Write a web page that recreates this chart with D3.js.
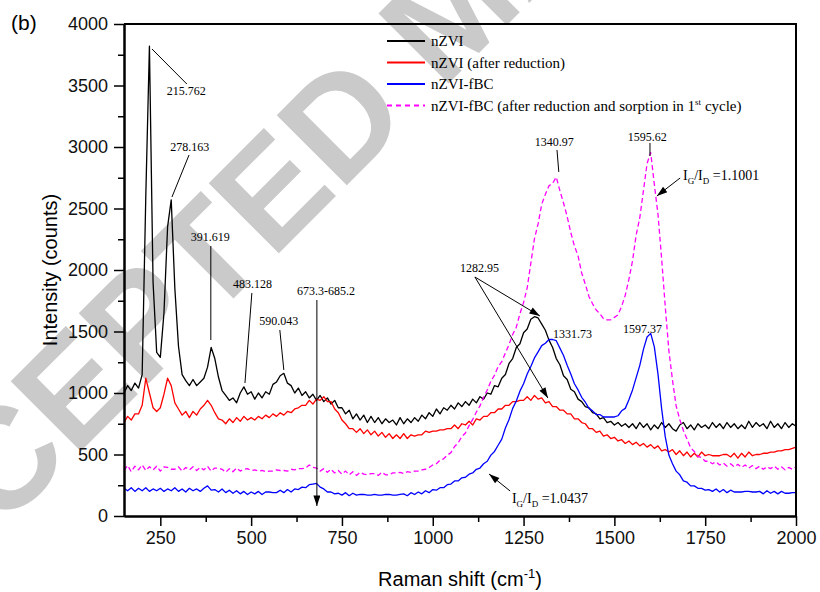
<!DOCTYPE html>
<html>
<head>
<meta charset="utf-8">
<script src="https://cdn.jsdelivr.net/npm/d3@7"></script>
<style>
body { margin: 0; background: #fff; }
</style>
</head>
<body>
<div id="chart"></div>
<script>
const width = 820;
const height = 592;
const marginTop = 24;
const marginBottom = 76;
const marginLeft = 124;
const marginRight = 24;

// Raman shift (cm-1), readings every 10 cm-1 from 150 to 2000
const shiftStep = 10;
const shift = d3.range(150, 2000 + 1, shiftStep);

// intensity (counts), one row = 100 cm-1
const nzvi = [
    1000, 1060, 1020, 1080, 1040, 1150, 2600, 3820, 1900, 1330,
    1290, 1650, 2350, 2570, 1850, 1380, 1150, 1100, 1060, 1110,
    1060, 1090, 1120, 1210, 1370, 1280, 1130, 1020, 980, 940,
    960, 920, 1000, 1050, 990, 1010, 950, 1000, 960, 1010,
    990, 1070, 1090, 1140, 1160, 1080, 1060, 1000, 1040, 980,
    1010, 960, 990, 940, 980, 930, 960, 910, 940, 880,
    880, 830, 860, 790, 830, 780, 820, 760, 810, 760,
    800, 750, 790, 760, 780, 740, 800, 750, 790, 760,
    800, 770, 820, 790, 840, 810, 870, 830, 880, 860,
    900, 870, 920, 890, 930, 900, 950, 920, 970, 950,
    1000, 990, 1060, 1050, 1120, 1150, 1240, 1280, 1370, 1400,
    1490, 1520, 1600, 1620, 1610, 1560, 1510, 1430, 1370, 1280,
    1230, 1140, 1110, 1030, 1010, 950, 930, 890, 880, 840,
    830, 790, 800, 760, 770, 740, 760, 730, 750, 720,
    750, 710, 760, 720, 750, 700, 740, 710, 760, 720,
    750, 710, 690, 740, 760, 710, 740, 700, 750, 720,
    740, 710, 760, 720, 750, 710, 760, 720, 750, 710,
    740, 710, 770, 720, 760, 730, 750, 710, 770, 720,
    750, 710, 760, 720, 750, 730
];

const nzviReduced = [
    760, 810, 780, 830, 830, 900, 1120, 1000, 880, 850,
    880, 990, 1120, 1060, 920, 870, 820, 850, 800, 850,
    820, 870, 900, 940, 900, 840, 790, 780, 750, 790,
    760, 800, 770, 810, 780, 800, 780, 810, 790, 820,
    800, 830, 810, 840, 820, 850, 840, 870, 880, 900,
    900, 940, 910, 950, 940, 970, 930, 930, 870, 840,
    780, 750, 710, 710, 680, 710, 670, 700, 660, 690,
    650, 680, 640, 670, 630, 660, 630, 670, 630, 660,
    650, 660, 660, 690, 680, 690, 690, 700, 700, 710,
    710, 740, 710, 750, 740, 770, 740, 790, 780, 810,
    810, 840, 840, 870, 870, 900, 900, 930, 930, 940,
    940, 970, 940, 980, 950, 960, 920, 930, 890, 890,
    860, 860, 830, 830, 790, 790, 760, 750, 710, 710,
    680, 690, 650, 660, 630, 640, 610, 620, 590, 610,
    580, 600, 570, 590, 560, 580, 550, 570, 530, 540,
    520, 540, 500, 530, 490, 520, 480, 510, 480, 520,
    490, 500, 490, 490, 490, 500, 500, 480, 510, 470,
    510, 480, 520, 490, 500, 500, 510, 510, 520, 520,
    530, 530, 540, 540, 550, 560
];

const nzviFbc = [
    225, 205, 230, 200, 225, 205, 230, 200, 220, 205,
    225, 200, 220, 205, 230, 200, 220, 195, 225, 205,
    220, 200, 225, 245, 210, 215, 195, 220, 190, 210,
    185, 205, 180, 200, 175, 195, 180, 200, 175, 195,
    195, 190, 190, 210, 190, 215, 195, 220, 215, 235,
    230, 255, 260, 265, 235, 220, 195, 195, 180, 185,
    170, 190, 165, 185, 170, 175, 175, 170, 170, 175,
    170, 170, 175, 175, 170, 170, 175, 180, 165, 190,
    175, 195, 180, 205, 190, 215, 210, 230, 230, 255,
    260, 285, 285, 310, 315, 340, 350, 380, 390, 425,
    445, 495, 525, 575, 625, 715, 785, 875, 935, 1015,
    1075, 1155, 1215, 1285, 1335, 1385, 1405, 1435, 1435, 1425,
    1365, 1305, 1225, 1155, 1075, 1025, 965, 925, 875, 855,
    825, 825, 805, 805, 805, 805, 815, 855, 875, 945,
    1025, 1125, 1225, 1355, 1455, 1485, 1375, 1155, 875, 645,
    495, 425, 365, 335, 285, 275, 245, 245, 225, 225,
    210, 215, 200, 220, 195, 215, 190, 210, 195, 195,
    195, 200, 200, 195, 195, 200, 180, 205, 185, 200,
    180, 200, 185, 185, 190, 190
];

const nzviFbcSorbed = [
    370, 410, 360, 405, 375, 415, 370, 400, 375, 405,
    365, 400, 395, 380, 380, 400, 365, 395, 375, 400,
    370, 395, 375, 405, 365, 390, 390, 380, 355, 385,
    360, 390, 365, 380, 385, 370, 375, 365, 370, 360,
    365, 365, 375, 370, 370, 365, 380, 375, 385, 385,
    390, 415, 395, 390, 365, 385, 355, 380, 350, 370,
    340, 365, 335, 360, 330, 355, 340, 335, 345, 345,
    330, 355, 335, 335, 350, 350, 355, 345, 360, 355,
    365, 365, 375, 380, 395, 415, 425, 455, 465, 495,
    515, 565, 595, 645, 675, 735, 785, 845, 895, 965,
    1025, 1095, 1145, 1215, 1255, 1325, 1395, 1475, 1535, 1645,
    1735, 1855, 2055, 2255, 2375, 2535, 2615, 2685, 2705, 2755,
    2645, 2545, 2435, 2305, 2195, 2115, 1975, 1885, 1785, 1725,
    1675, 1645, 1605, 1595, 1595, 1615, 1635, 1705, 1795, 1925,
    2075, 2285, 2425, 2645, 2865, 2955, 2695, 2455, 2095, 1705,
    1345, 1105, 895, 785, 695, 625, 555, 525, 485, 475,
    445, 445, 425, 440, 415, 430, 405, 425, 400, 420,
    395, 415, 390, 410, 385, 405, 380, 400, 385, 405,
    380, 400, 375, 395, 380, 400
];

const seriesNames = [
    'nZVI',
    'nZVI (after reduction)',
    'nZVI-fBC',
    'nZVI-fBC (after reduction and sorption in 1st cycle)',
];
const seriesValues = [nzvi, nzviReduced, nzviFbc, nzviFbcSorbed];
const seriesColors = ['#000000', '#ff0000', '#0000ff', '#ff00ff'];

const xTicks = [250, 500, 750, 1000, 1250, 1500, 1750, 2000];
const xMinorTicks = [375, 625, 875, 1125, 1375, 1625, 1875];
const yTicks = [0, 500, 1000, 1500, 2000, 2500, 3000, 3500, 4000];
const yMinorTicks = [250, 750, 1250, 1750, 2250, 2750, 3250, 3750];

// peak labels: text anchor and leader line, in (shift, intensity)
const peakLabels = [
    { text: '215.762', at: [268, 3423], line: [[227, 3797], [323, 3512]] },
    { text: '278.163', at: [277, 2967], line: [[329, 2935], [282, 2593]] },
    { text: '391.619', at: [334, 2236], line: [[389, 2195], [389, 1431]] },
    { text: '483.128', at: [450, 1854], line: [[502, 1813], [483, 1081]] },
    { text: '590.043', at: [522, 1553], line: [[579, 1512], [590, 1187]] },
    { text: '673.3-685.2', at: [626, 1797], arrow: [[681, 1756], [681, 81]] },
    { text: '1340.97', at: [1281, 3008], line: [[1342, 2976], [1347, 2797]] },
    { text: '1595.62', at: [1537, 3049], line: [[1598, 3033], [1598, 2927]] },
    { text: '1282.95', at: [1075, 1984], arrow: [[1116, 1943], [1295, 1626]] },
    { text: '', at: [1075, 1984], arrow: [[1116, 1943], [1317, 959]] },
    { text: '1331.73', at: [1331, 1447] },
    { text: '1597.37', at: [1524, 1488] },
];

const ratioLabels = [
    { value: '1.1001', at: [1689, 2732], arrow: [[1681, 2748], [1617, 2602]] },
    { value: '1.0437', at: [1218, 106], arrow: [[1213, 203], [1155, 341]] },
];

const svg = d3.select('#chart')
    .append('svg')
    .attr('width', width)
    .attr('height', height)
    .style('font-family', 'Liberation Sans, Arial, sans-serif');

const x = d3.scaleLinear()
    .domain([150, 2000])
    .range([marginLeft, width - marginRight]);

const y = d3.scaleLinear()
    .domain([0, 4000])
    .range([height - marginBottom, marginTop]);

// watermark of the journal proof
svg.append('text')
    .attr('transform', 'translate(452,10) rotate(-45)')
    .attr('text-anchor', 'middle')
    .attr('dominant-baseline', 'central')
    .style('font-size', '144px')
    .style('font-weight', 'bold')
    .style('fill', '#cacaca')
    .text('ACCEPTED MANUSCRIPT');

svg.append('defs')
    .append('marker')
    .attr('id', 'arrow')
    .attr('viewBox', '0 0 12 8')
    .attr('refX', 12)
    .attr('refY', 4)
    .attr('markerUnits', 'userSpaceOnUse')
    .attr('markerWidth', 12)
    .attr('markerHeight', 7)
    .attr('orient', 'auto')
    .append('path')
    .attr('d', 'M0,0L12,4L0,8z')
    .attr('fill', '#000');

const line = d3.line()
    .x((d, i) => x(shift[i]))
    .y((d) => y(d));

seriesValues.forEach((vals, i) => {
    svg.append('path')
        .datum(vals)
        .attr('fill', 'none')
        .attr('stroke', seriesColors[i])
        .attr('stroke-width', 1.3)
        .attr('stroke-linejoin', 'round')
        .attr('stroke-dasharray', i === 3 ? '5,3' : null)
        .attr('d', line);
});

// axes
svg.append('g')
    .attr('transform', `translate(0,${height - marginBottom})`)
    .call(d3.axisBottom(x).tickValues(xTicks).tickSize(10).tickSizeOuter(0).tickPadding(5).tickFormat(d3.format('d')));
svg.append('g')
    .attr('transform', `translate(0,${height - marginBottom})`)
    .call(d3.axisBottom(x).tickValues(xMinorTicks).tickSize(6).tickSizeOuter(0).tickFormat(''));

svg.append('g')
    .attr('transform', `translate(${marginLeft},0)`)
    .call(d3.axisLeft(y).tickValues(yTicks).tickSize(10).tickSizeOuter(0).tickPadding(6).tickFormat(d3.format('d')));
svg.append('g')
    .attr('transform', `translate(${marginLeft},0)`)
    .call(d3.axisLeft(y).tickValues(yMinorTicks).tickSize(6).tickSizeOuter(0).tickFormat(''));

svg.selectAll('.domain').attr('stroke-width', 2);
svg.selectAll('.tick line').attr('stroke-width', 1.5);
svg.selectAll('.tick text')
    .style('font-size', '18px')
    .style('font-family', 'Liberation Sans, Arial, sans-serif')
    .attr('fill', '#111');

// top and right frame
svg.append('path')
    .attr('d', `M${x(150)},${y(4000)}H${x(2000)}V${y(0)}`)
    .attr('fill', 'none')
    .attr('stroke', '#000')
    .attr('stroke-width', 2);

// axis titles
const xTitle = svg.append('text')
    .attr('x', (marginLeft + width - marginRight) / 2)
    .attr('y', 586)
    .attr('text-anchor', 'middle')
    .style('font-size', '20px');
xTitle.append('tspan').text('Raman shift (cm');
xTitle.append('tspan').attr('dy', -8).style('font-size', '13px').text('-1');
xTitle.append('tspan').attr('dy', 8).text(')');

svg.append('text')
    .attr('transform', `translate(57,${(marginTop + height - marginBottom) / 2}) rotate(-90)`)
    .attr('text-anchor', 'middle')
    .style('font-size', '20px')
    .text('Intensity (counts)');

svg.append('text')
    .attr('x', 11)
    .attr('y', 30)
    .style('font-size', '21px')
    .text('(b)');

// legend
const legend = svg.append('g')
    .attr('transform', 'translate(387,41)')
    .style('font-family', 'Liberation Serif, Times New Roman, serif')
    .style('font-size', '15px');

seriesNames.forEach((name, i) => {
    const row = legend.append('g').attr('transform', `translate(0,${i * 21.5})`);
    row.append('line')
        .attr('x1', 0)
        .attr('x2', 38)
        .attr('stroke', seriesColors[i])
        .attr('stroke-width', 2)
        .attr('stroke-dasharray', i === 3 ? '5,4' : null);
    const t = row.append('text').attr('x', 44).attr('y', 5);
    const parts = name.split('1st');
    t.append('tspan').text(parts[0] + (parts.length > 1 ? '1' : ''));
    if (parts.length > 1) {
        t.append('tspan').attr('dy', -6).style('font-size', '9px').text('st');
        t.append('tspan').attr('dy', 6).text(parts[1]);
    }
});

// peak annotations
const notes = svg.append('g')
    .style('font-family', 'Liberation Serif, Times New Roman, serif')
    .style('font-size', '12px');

peakLabels.forEach((p) => {
    notes.append('text')
        .attr('x', x(p.at[0]))
        .attr('y', y(p.at[1]))
        .text(p.text);
    const seg = p.line || p.arrow;
    if (seg) {
        notes.append('line')
            .attr('x1', x(seg[0][0]))
            .attr('y1', y(seg[0][1]))
            .attr('x2', x(seg[1][0]))
            .attr('y2', y(seg[1][1]))
            .attr('stroke', '#000')
            .attr('stroke-width', 1)
            .attr('marker-end', p.arrow ? 'url(#arrow)' : null);
    }
});

ratioLabels.forEach((r) => {
    const t = notes.append('text')
        .attr('x', x(r.at[0]))
        .attr('y', y(r.at[1]))
        .style('font-size', '14px');
    t.append('tspan').text('I');
    t.append('tspan').attr('dy', 4).style('font-size', '9px').text('G');
    t.append('tspan').attr('dy', -4).text('/I');
    t.append('tspan').attr('dy', 4).style('font-size', '9px').text('D');
    t.append('tspan').attr('dy', -4).text(' =' + r.value);
    notes.append('line')
        .attr('x1', x(r.arrow[0][0]))
        .attr('y1', y(r.arrow[0][1]))
        .attr('x2', x(r.arrow[1][0]))
        .attr('y2', y(r.arrow[1][1]))
        .attr('stroke', '#000')
        .attr('stroke-width', 1)
        .attr('marker-end', 'url(#arrow)');
});
</script>
</body>
</html>
